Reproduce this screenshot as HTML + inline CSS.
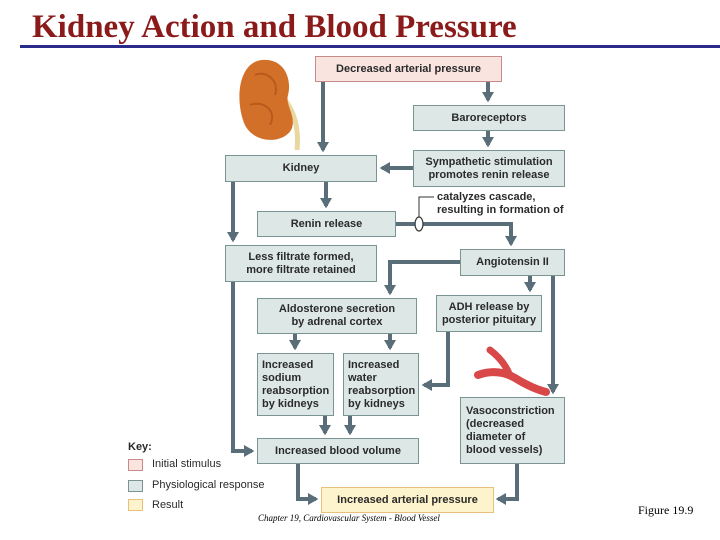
<!DOCTYPE html>
<html><head><style>
body{margin:0;width:720px;height:540px;background:#fff;position:relative;overflow:hidden;font-family:"Liberation Sans",Arial,sans-serif}
.b{position:absolute;box-sizing:border-box;background:#dde8e6;border:1.5px solid #7a9494;font-weight:bold;font-size:11px;color:#2a2a2a;display:flex;align-items:center;justify-content:center;text-align:center;line-height:13px}
.l{justify-content:flex-start;text-align:left;padding-left:5px}
.t{position:absolute;font-size:11px;font-weight:bold;color:#2a2a2a}
</style></head><body>
<div style="position:absolute;left:32px;top:9px;font-family:'Liberation Serif',serif;font-weight:bold;font-size:33px;color:#8b1a1a;white-space:nowrap;line-height:36px">Kidney Action and Blood Pressure</div>
<div style="position:absolute;left:20px;top:45px;width:700px;height:3px;background:#2a2a8a"></div>
<svg style="position:absolute;left:0;top:0" width="720" height="540">
<defs><marker id="a" markerWidth="3" markerHeight="3" refX="2" refY="1.5" orient="auto" markerUnits="strokeWidth"><path d="M0,0L2.6,1.5L0,3z" fill="#5a6e7a"/></marker></defs>
<g stroke="#5a6e7a" stroke-width="4" fill="none" marker-end="url(#a)">
<path d="M323 81V150"/><path d="M488 81V100"/><path d="M488 130V145"/>
<path d="M413 168H382"/><path d="M326 181V206"/><path d="M233 181V240"/>
<path d="M396 224H511V244"/><path d="M460 262H390V293"/>
<path d="M530 275V290"/><path d="M553 275V392"/>
<path d="M448 331V385H424"/><path d="M233 281V451H252"/><path d="M295 333V348"/><path d="M390 333V348"/>
<path d="M325 415V433"/><path d="M350 415V433"/>
<path d="M298 463V499H316"/><path d="M517 463V499H498"/>
</g>
<path d="M419 217V197H434" stroke="#333" stroke-width="1" fill="none"/>
<ellipse cx="419" cy="224" rx="4" ry="7" fill="#fff" stroke="#333" stroke-width="1.2"/>
<path d="M285 100 Q300 120 297 150" stroke="#e8d8a0" stroke-width="5" fill="none"/>
<path d="M262 60 C240 62 235 95 243 120 C250 145 285 145 292 128 C296 115 285 105 288 95 C292 80 285 58 262 60Z" fill="#d2702a"/>
<path d="M255 75 C265 70 280 80 275 95 M250 105 C262 100 278 110 270 125" stroke="#b85a1c" stroke-width="2" fill="none"/>
<path d="M478 375 C492 370 505 372 515 378 C528 386 538 390 546 392" stroke="#d84848" stroke-width="8" fill="none" stroke-linecap="round"/>
<path d="M510 376 C506 365 498 356 490 350" stroke="#d84848" stroke-width="7" fill="none" stroke-linecap="round"/>
</svg>
<div class="b" style="left:315px;top:56px;width:187px;height:26px;background:#f9e4e0;border-color:#c98a8a">Decreased arterial pressure</div>
<div class="b" style="left:413px;top:105px;width:152px;height:26px">Baroreceptors</div>
<div class="b" style="left:413px;top:150px;width:152px;height:37px">Sympathetic stimulation<br>promotes renin release</div>
<div class="b" style="left:225px;top:155px;width:152px;height:27px">Kidney</div>
<div class="b" style="left:257px;top:211px;width:139px;height:26px">Renin release</div>
<div class="t" style="left:437px;top:191px;line-height:13px">catalyzes cascade,<br>resulting in formation of</div>
<div class="b" style="left:225px;top:245px;width:152px;height:37px">Less filtrate formed,<br>more filtrate retained</div>
<div class="b" style="left:460px;top:249px;width:105px;height:27px">Angiotensin II</div>
<div class="b" style="left:257px;top:298px;width:160px;height:36px">Aldosterone secretion<br>by adrenal cortex</div>
<div class="b" style="left:436px;top:295px;width:106px;height:37px">ADH release by<br>posterior pituitary</div>
<div class="b l" style="left:257px;top:353px;width:77px;height:63px;padding-left:4px">Increased<br>sodium<br>reabsorption<br>by kidneys</div>
<div class="b l" style="left:343px;top:353px;width:76px;height:63px;padding-left:4px">Increased<br>water<br>reabsorption<br>by kidneys</div>
<div class="b l" style="left:460px;top:397px;width:105px;height:67px">Vasoconstriction<br>(decreased<br>diameter of<br>blood vessels)</div>
<div class="b" style="left:257px;top:438px;width:162px;height:26px">Increased blood volume</div>
<div class="b" style="left:321px;top:487px;width:173px;height:26px;background:#fdf3cc;border-color:#e8c07a">Increased arterial pressure</div>
<div class="t" style="left:128px;top:441px">Key:</div>
<div style="position:absolute;left:128px;top:459px;width:15px;height:12px;background:#f9e4e0;border:1.5px solid #c98a8a;box-sizing:border-box"></div>
<div style="position:absolute;left:128px;top:480px;width:15px;height:12px;background:#dde8e6;border:1.5px solid #7a9494;box-sizing:border-box"></div>
<div style="position:absolute;left:128px;top:499px;width:15px;height:12px;background:#fdf3cc;border:1.5px solid #e8c07a;box-sizing:border-box"></div>
<div class="t" style="left:152px;top:458px;font-weight:normal">Initial stimulus</div>
<div class="t" style="left:152px;top:479px;font-weight:normal">Physiological response</div>
<div class="t" style="left:152px;top:499px;font-weight:normal">Result</div>
<div style="position:absolute;left:258px;top:513px;font-family:'Liberation Serif',serif;font-style:italic;font-size:9px;white-space:nowrap">Chapter 19, Cardiovascular System - Blood Vessel</div>
<div style="position:absolute;left:638px;top:503px;font-family:'Liberation Serif',serif;font-size:12px;white-space:nowrap">Figure 19.9</div>
</body></html>
